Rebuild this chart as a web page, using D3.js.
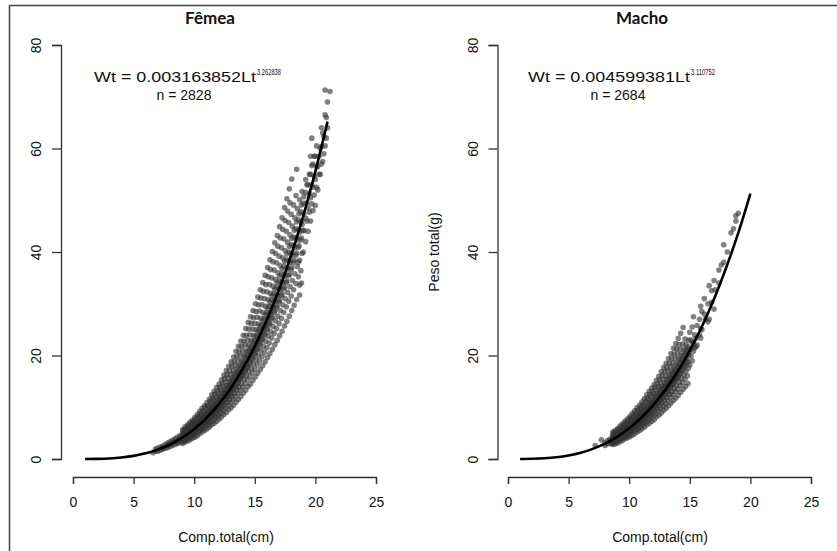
<!DOCTYPE html>
<html>
<head>
<meta charset="utf-8">
<script src="https://cdn.jsdelivr.net/npm/d3@7"></script>
<style>
  body { margin: 0; background: #fff; }
  svg { display: block; }
  text { font-family: "Liberation Sans", Arial, sans-serif; fill: #111; }
</style>
</head>
<body>
<div id="chart"></div>
<script>
// tick labels and titles
const xTicks = [0, 5, 10, 15, 20, 25];
const yTicks = [0, 20, 40, 60, 80];
const panelTitles = ["Fêmea", "Macho"];
const xLabel = "Comp.total(cm)";
const yLabel = "Peso total(g)";
const eqCoef = ["0.003163852", "0.004599381"];
const eqExp = ["3.262838", "3.110752"];
const eqN = ["2828", "2684"];

// fitted curve (length cm, weight g)
const femeaCurve = [[1,0.0],[2,0.03],[3,0.11],[4,0.29],[5,0.6],[6,1.09],[7,1.81],[8,2.8],[9,4.11],[10,5.8],[11,7.9],
  [12,10.5],[13,13.6],[14,17.4],[15,21.8],[16,26.9],[17,32.7],[18,39.4],[19,47.0],[20,55.6],[21,65.2]];
const machoCurve = [[1,0.0],[2,0.04],[3,0.14],[4,0.34],[5,0.69],[6,1.21],[7,1.96],[8,2.97],[9,4.28],[10,5.94],
  [11,7.98],[12,10.47],[13,13.43],[14,16.9],[15,20.95],[16,25.6],[17,30.9],[18,36.95],[19,43.7],[20,51.3]];

// scatter: [length, [weights at that length]]
const femeaPts = [
  [6.6,[1.2]],[6.8,[1.5,1.9]],[7.0,[1.5,2.1]],[7.2,[1.7,2.3]],[7.4,[1.9,2.5,2.1]],[7.6,[2.1,2.8]],
  [7.8,[2.2,2.6,3.1]],[8.0,[2.4,2.9,3.3]],[8.2,[2.6,3.1,3.6]],[8.4,[2.8,3.4,3.9]],[8.6,[3.0,3.6,4.2,3.3]],
  [8.8,[3.2,3.9,4.5,3.6]],
  [9.0,[3.3,3.8,4.3,4.9]],[9.1,[3.7,4.2,4.8,5.5]],[9.2,[3.6,4.1,4.7,5.3]],[9.3,[4.0,4.5,5.2,5.9]],
  [9.4,[3.8,4.4,5.0,5.7]],[9.5,[4.3,4.9,5.5,6.3]],[9.6,[4.1,4.8,5.4,6.1]],[9.7,[4.6,5.2,5.9,6.8]],
  [9.8,[4.4,5.1,5.7,6.6]],[9.9,[4.8,5.5,6.3,7.2]],[10.0,[4.6,5.4,6.1,7.0]],[10.1,[5.2,5.9,6.7,7.7]],
  [10.2,[5.0,5.8,6.5,7.4]],[10.3,[5.5,6.3,7.2,8.2]],[10.4,[5.3,6.2,7.0,8.0]],[10.5,[5.9,6.7,7.7,8.8]],
  [10.6,[5.7,6.6,7.4,8.5]],[10.7,[6.3,7.1,8.2,9.3]],[10.8,[6.0,7.0,7.9,9.0]],[10.9,[6.6,7.5,8.6,9.9]],
  [11.0,[6.3,7.3,8.3,9.5]],[11.1,[7.0,8.0,9.1,10.4]],[11.2,[6.7,7.8,8.8,10.1]],[11.3,[7.5,8.5,9.7,11.1]],
  [11.4,[7.2,8.3,9.4,10.7]],[11.5,[7.9,9.0,10.3,11.8]],[11.6,[7.6,8.8,10.0,11.4]],[11.7,[8.4,9.6,10.9,12.5]],
  [11.8,[8.0,9.3,10.5,12.0]],[11.9,[8.8,10.0,11.5,13.1]],[12.0,[8.4,9.8,11.0,12.6]],[12.1,[9.3,10.6,12.1,13.8]],
  [12.2,[8.9,10.3,11.7,13.3]],[12.3,[9.8,11.2,12.8,14.6]],[12.4,[9.4,10.9,12.3,14.1]],[12.5,[10.4,11.8,13.5,15.5]],
  [12.6,[9.9,11.5,13.0,14.9]],[12.7,[10.9,12.4,14.2,16.3]],[12.8,[10.4,12.1,13.7,15.6]],[12.9,[11.4,13.0,14.9,17.0]],
  [13.0,[10.9,12.6,14.3,16.3]],[13.1,[12.0,13.7,15.7,17.9]],[13.2,[11.5,13.3,15.1,17.2]],[13.3,[12.6,14.4,16.5,18.8]],
  [13.4,[12.1,14.0,15.9,18.1]],[13.5,[13.3,15.2,17.4,19.8]],[13.6,[12.7,14.7,16.6,19.0]],[13.7,[13.9,15.9,18.1,20.7]],
  [13.8,[13.3,15.4,17.4,19.9]],[13.9,[14.6,16.7,19.0,21.8]],[14.0,[13.9,16.2,18.3,20.9]],[14.1,[15.4,17.5,20.0,22.8]],
  [14.2,[14.6,17.0,19.2,22.0]],[14.3,[16.1,18.3,20.9,23.9]],[14.4,[15.3,17.8,20.1,23.0]],[14.5,[16.9,19.2,22.0,25.1]],
  [14.6,[16.0,18.6,21.0,24.0]],[14.7,[17.6,20.0,22.9,26.2]],[14.8,[16.7,19.4,21.9,25.1]],[14.9,[18.4,20.9,23.9,27.3]],
  [15.0,[17.4,20.3,22.9,26.2]],[15.1,[19.2,21.9,25.0,28.5]],[15.2,[18.2,21.2,23.9,27.4]],[15.3,[20.0,22.8,26.1,29.8]],
  [15.4,[19.0,22.1,25.0,28.6]],[15.5,[20.9,23.8,27.2,31.1]],[15.6,[19.8,23.1,26.0,29.8]],[15.7,[21.8,24.8,28.3,32.4]],
  [15.8,[20.6,24.0,27.1,31.0]],[15.9,[22.7,25.8,29.5,33.7]],[16.0,[21.5,25.0,28.2,32.3]],[16.1,[23.7,27.0,30.8,35.2]],
  [16.2,[22.4,26.1,29.5,33.7]],[16.3,[24.6,28.0,32.0,36.6]],[16.4,[23.4,27.2,30.7,35.0]],[16.5,[25.6,29.2,33.4,38.1]],
  [16.6,[24.3,28.3,31.9,36.5]],[16.7,[26.7,30.4,34.7,39.7]],[16.8,[25.2,29.3,33.1,37.9]],[16.9,[27.6,31.5,36.0,41.1]],
  [17.0,[26.2,30.4,34.3,39.2]],[17.1,[28.7,32.7,37.4,42.7]],[17.2,[27.2,31.6,35.7,40.8]],[17.3,[29.8,34.0,38.9,44.4]],
  [17.4,[28.3,32.9,37.2,42.5]],[17.5,[31.0,35.3,40.3,46.1]],[17.6,[29.4,34.1,38.5,44.0]],[17.7,[32.2,36.7,41.9,47.9]],
  [17.8,[30.5,35.4,40.0,45.7]],[17.9,[33.3,37.9,43.3,49.5]],[18.0,[31.5,36.6,41.4,47.3]],[18.1,[34.5,39.3,45.0]],
  [18.2,[32.7,38.0,42.9,49.1]],[18.3,[35.8,40.8,46.6]],[18.4,[33.9,39.4,44.5,50.9]],[18.5,[37.2,42.3,48.4]],
  [18.6,[35.2,40.9,46.2,38.0]],[18.7,[38.4,43.8,50.1,33.6,31.7]],[18.8,[36.4,42.3,47.8]],[18.9,[39.7,45.3,51.7]],
  [19.0,[40.0,44.2,49.4]],[19.2,[42.0,46.5,51.5,54.0]],[19.4,[44.0,48.5,53.0]],[19.6,[46.0,50.5,55.0,58.5]],
  [19.8,[48.0,52.5,57.0]],[20.0,[49.0,54.0,58.5]],[20.2,[52.0,56.5]],[20.4,[55.0,60.0]],[20.6,[57.5,63.0]],
  [20.8,[60.5,66.5,71.3]],[21.0,[64.0,69.0]],[21.2,[71.0]],
  [9.05,[3.0,3.9,4.2,4.5,5.7]],[9.25,[3.3,4.2,4.5,4.8,6.2]],[9.45,[3.5,4.5,4.9,5.2,6.6]],[9.65,[3.7,4.8,5.2,5.6,7.1]],
  [9.85,[4.0,5.2,5.5,5.9,7.5]],[10.05,[4.2,5.5,5.9,6.3,8.0]],[10.25,[4.5,5.9,6.3,6.7,8.6]],[10.45,[4.9,6.3,6.8,7.2,9.2]],
  [10.65,[5.2,6.7,7.2,7.7,9.8]],[10.85,[5.5,7.1,7.6,8.1,10.3]],[11.05,[5.8,7.5,8.0,8.6,10.9]],[11.25,[6.2,8.0,8.6,9.1,11.6]],
  [11.45,[6.6,8.5,9.1,9.7,12.4]],[11.65,[6.9,8.9,9.6,10.3,13.1]],[11.85,[7.3,9.4,10.1,10.8,13.8]],[12.05,[7.7,9.9,10.7,11.4,14.5]],
  [12.25,[8.1,10.5,11.3,12.0,15.3]],[12.45,[8.6,11.1,11.9,12.7,16.2]],[12.65,[9.0,11.7,12.6,13.4,17.1]],[12.85,[9.5,12.2,13.2,14.1,17.9]],
  [13.05,[9.9,12.8,13.8,14.8,18.8]],[13.25,[10.4,13.5,14.5,15.5,19.7]],[13.45,[11.0,14.2,15.3,16.4,20.8]],[13.65,[11.5,14.9,16.0,17.1,21.8]],
  [13.85,[12.1,15.6,16.8,18.0,22.8]],[14.05,[12.7,16.4,17.6,18.8,23.9]],[14.25,[13.3,17.2,18.5,19.8,25.2]],[14.45,[14.0,18.0,19.4,20.8,26.4]],
  [14.65,[14.5,18.8,20.2,21.6,27.5]],[14.85,[15.2,19.6,21.1,22.6,28.7]],[15.05,[15.9,20.5,22.1,23.6,30.0]],[15.25,[16.6,21.4,23.1,24.7,31.3]],
  [15.45,[17.3,22.4,24.1,25.7,32.7]],[15.65,[18.0,23.3,25.1,26.8,34.1]],[15.85,[18.8,24.3,26.1,27.9,35.5]],[16.05,[19.6,25.3,27.2,29.1,37.0]],
  [16.25,[20.4,26.3,28.3,30.3,38.5]],[16.45,[21.2,27.4,29.5,31.6,40.1]],[16.65,[22.1,28.6,30.7,32.8,41.8]],[16.85,[22.9,29.6,31.8,34.0,43.2]],
  [17.05,[23.8,30.7,33.0,35.3,44.9]],[17.25,[24.7,31.9,34.3,36.7,46.6]],[17.45,[25.7,33.2,35.7,38.2,48.6]],[17.65,[26.6,34.4,37.0,39.6,50.3]],
  [17.85,[27.6,35.7,38.4,41.1,52.2]],[18.05,[28.7,37.0,39.8,42.6,54.1]],[18.25,[29.7,38.4,41.3,44.2]],[18.45,[30.8,39.8,42.8,45.8,56.0]],
  [18.65,[41.2,44.3,47.4]],[18.85,[34.0,42.7,45.9,49.1]],[19.05,[44.1,47.4,50.7]],[19.3,[46.0,49.5,53.0]],
  [19.5,[47.7,51.3,55.0]],[19.7,[49.3,53.0,56.7,62.0]],[19.9,[51.0,54.7,58.5]],[20.1,[52.5,56.5,60.5]],
  [20.3,[55.0,58.5]],[20.5,[57.0,60.4,64.0]],[20.7,[59.0,62.3]],[20.9,[62.0,66.0]]
];

const machoPts = [
  [7.2,[2.6]],[7.7,[3.7]],[8.0,[2.6,3.2]],[8.2,[2.9,3.5]],[8.4,[3.0,3.8,3.4]],
  [8.6,[3.0,3.5,3.9,4.5]],[8.7,[3.3,3.8,4.4,5.0]],[8.8,[3.2,3.7,4.2,4.8]],[8.9,[3.6,4.1,4.6,5.3]],
  [9.0,[3.4,4.0,4.5,5.1]],[9.1,[3.8,4.4,5.0,5.7]],[9.2,[3.7,4.3,4.8,5.5]],[9.3,[4.1,4.7,5.4,6.1]],
  [9.4,[4.0,4.6,5.2,5.9]],[9.5,[4.4,5.0,5.7,6.5]],[9.6,[4.2,4.9,5.5,6.3]],[9.7,[4.7,5.3,6.1,7.0]],
  [9.8,[4.5,5.2,5.9,6.7]],[9.9,[5.0,5.7,6.5,7.4]],[10.0,[4.8,5.5,6.2,7.1]],[10.1,[5.3,6.0,6.9,7.9]],
  [10.2,[5.1,5.9,6.7,7.6]],[10.3,[5.6,6.4,7.3,8.4]],[10.4,[5.4,6.3,7.1,8.1]],[10.5,[6.0,6.8,7.8,8.9]],
  [10.6,[5.7,6.7,7.5,8.6]],[10.7,[6.3,7.2,8.3,9.4]],[10.8,[6.1,7.0,7.9,9.1]],[10.9,[6.7,7.6,8.7,10.0]],
  [11.0,[6.4,7.4,8.4,9.6]],[11.1,[7.1,8.1,9.2,10.5]],[11.2,[6.8,7.9,8.9,10.2]],[11.3,[7.5,8.6,9.8,11.2]],
  [11.4,[7.2,8.4,9.4,10.8]],[11.5,[7.9,9.0,10.3,11.8]],[11.6,[7.6,8.8,9.9,11.4]],[11.7,[8.4,9.5,10.9,12.4]],
  [11.8,[8.0,9.3,10.5,12.0]],[11.9,[8.8,10.0,11.4,13.1]],[12.0,[8.4,9.7,11.0,12.6]],[12.1,[9.3,10.6,12.1,13.8]],
  [12.2,[8.8,10.3,11.6,13.3]],[12.3,[9.8,11.1,12.7,14.5]],[12.4,[9.3,10.8,12.2,14.0]],[12.5,[10.3,11.7,13.4,15.3]],
  [12.6,[9.8,11.4,12.9,14.7]],[12.7,[10.8,12.3,14.1,16.1]],[12.8,[10.3,11.9,13.5,15.4]],[12.9,[11.3,12.9,14.7,16.8]],
  [13.0,[10.7,12.5,14.1,16.1]],[13.1,[11.9,13.5,15.4,17.6]],[13.2,[11.3,13.1,14.8,17.0]],[13.3,[12.5,14.2,16.2,18.5]],
  [13.4,[11.9,13.8,15.6,17.8]],[13.5,[13.0,14.9,17.0,19.4]],[13.6,[12.4,14.4,16.3,18.6]],[13.7,[13.6,15.5,17.8,20.3]],
  [13.8,[13.0,15.1,17.0,19.4]],[13.9,[14.2,16.2,18.5,21.2]],[14.0,[13.5,15.7,17.7,20.3]],[14.1,[14.9,17.0,19.4,22.1]],
  [14.2,[14.2,16.5,18.6,21.2]],[14.3,[15.6,17.7,20.3]],[14.4,[14.8,17.2,19.4,22.2]],[14.5,[16.3,18.5,21.2]],
  [14.6,[15.4,17.9,20.3,23.2]],[14.7,[17.0,19.3,22.1]],[14.8,[16.1,18.7,21.1]],[14.9,[17.6,20.1,23.0]],
  [15.0,[18.2,21.0,24.5]],[15.2,[19.0,22.5,25.5]],[15.4,[21.5,24.0]],[15.6,[22.0,25.8]],[15.8,[24.0,27.0]],
  [16.0,[25.0,28.5]],[16.3,[27.0]],[16.5,[26.5,30.0]],[16.8,[30.3,32.5]],[17.1,[32.7]],[17.4,[34.0,36.5]],
  [17.8,[38.0,41.4]],[18.4,[43.7]],[18.8,[47.0,46.0]],
  [8.65,[2.8,3.6,3.8,4.1,5.2]],[8.85,[2.9,3.8,4.1,4.4,5.5]],[9.05,[3.1,4.1,4.4,4.7,5.9]],[9.25,[3.4,4.4,4.7,5.0,6.4]],
  [9.45,[3.6,4.7,5.0,5.4,6.8]],[9.65,[3.9,5.0,5.4,5.7,7.3]],[9.85,[4.1,5.3,5.7,6.1,7.7]],[10.05,[4.3,5.6,6.0,6.5,8.2]],
  [10.25,[4.6,6.0,6.5,6.9,8.8]],[10.45,[4.9,6.4,6.9,7.3,9.3]],[10.65,[5.2,6.8,7.3,7.8,9.9]],[10.85,[5.5,7.1,7.7,8.2,10.4]],
  [11.05,[5.8,7.5,8.1,8.7,11.0]],[11.25,[6.2,8.0,8.6,9.2,11.7]],[11.45,[6.6,8.5,9.1,9.7,12.4]],[11.65,[6.9,8.9,9.6,10.3,13.1]],
  [11.85,[7.3,9.4,10.1,10.8,13.7]],[12.05,[7.6,9.9,10.6,11.3,14.4]],[12.25,[8.1,10.4,11.2,12.0,15.2]],[12.45,[8.5,11.0,11.8,12.6,16.0]],
  [12.65,[8.9,11.5,12.4,13.3,16.9]],[12.85,[9.4,12.1,13.0,13.9,17.7]],[13.05,[9.8,12.6,13.6,14.6,18.5]],[13.25,[10.3,13.3,14.3,15.3,19.4]],
  [13.45,[10.8,14.0,15.0,16.1,20.4]],[13.65,[11.3,14.6,15.7,16.8,21.4]],[13.85,[11.8,15.3,16.4,17.5,22.3]],[14.05,[12.3,15.9,17.1,18.3,23.3]],
  [14.25,[12.9,16.6,17.9,19.2,24.3]],[14.45,[13.5,17.4,18.7,20.0,25.4]],[14.65,[14.0,18.1,19.5,20.9]],[14.85,[14.6,18.9,20.3,21.7]],
  [15.1,[19.9,21.4,23.0]],[15.3,[20.8,22.4,27.5]],[15.5,[21.7,23.3]],[15.9,[23.4,25.2,29.5]],[16.2,[28.0,31.0]],
  [16.6,[27.0,33.5]],[17.0,[29.0,34.5]],[17.6,[37.5]],[18.1,[40.0]],[18.6,[44.5]],[19.0,[47.5]]
];

// panel geometry (pixels)
const panels = [
  {x0: 73, x1: 376, yAxisX: 61, titleX: 210, eqX: 184, xLabelX: 226, pts: femeaPts, curve: femeaCurve},
  {x0: 508, x1: 811, yAxisX: 497.5, titleX: 642, eqX: 618, xLabelX: 660, pts: machoPts, curve: machoCurve}
];

let width = 837, height = 551;
let svg = d3.select("#chart").append("svg")
  .attr("width", width)
  .attr("height", height);

// outer frame (top and left only)
svg.append("path")
  .attr("d", "M9.5,551V5.5H837")
  .attr("fill", "none")
  .attr("stroke", "#444")
  .attr("stroke-width", 1.5);

let y = d3.scaleLinear().domain([0, 80]).range([459, 45]);

panels.forEach((p, i) => {
  let x = d3.scaleLinear().domain([0, 25]).range([p.x0, p.x1]);
  let g = svg.append("g");

  // points
  let flat = [];
  p.pts.forEach(d => d[1].forEach(w => flat.push([d[0], w])));
  g.append("g").selectAll("circle")
    .data(flat)
    .join("circle")
    .attr("cx", d => x(d[0]))
    .attr("cy", d => y(d[1]))
    .attr("r", 2.8)
    .attr("fill", "#333")
    .attr("fill-opacity", 0.62);

  // fitted curve
  let line = d3.line()
    .x(d => x(d[0]))
    .y(d => y(d[1]))
    .curve(d3.curveMonotoneX);
  g.append("path")
    .datum(p.curve)
    .attr("d", line)
    .attr("fill", "none")
    .attr("stroke", "#000")
    .attr("stroke-width", 2.6);

  // x axis
  let gx = g.append("g")
    .attr("transform", "translate(0,477)")
    .call(d3.axisBottom(x).tickValues(xTicks).tickSize(7));
  gx.selectAll("path, line").attr("stroke", "#333").attr("stroke-width", 1.3);
  gx.selectAll("text")
    .attr("y", 25).attr("dy", "0.35em")
    .style("font-size", "14px")
    .style("font-family", "Liberation Sans, Arial, sans-serif")
    .attr("fill", "#111");

  // y axis
  let gy = g.append("g")
    .attr("transform", "translate(" + p.yAxisX + ",0)")
    .call(d3.axisLeft(y).tickValues(yTicks).tickSize(9));
  gy.selectAll("path, line").attr("stroke", "#333").attr("stroke-width", 1.3);
  gy.selectAll("text")
    .attr("x", 0).attr("dy", 0)
    .attr("transform", "translate(-25,0) rotate(-90)")
    .attr("text-anchor", "middle")
    .attr("dominant-baseline", "central")
    .style("font-size", "14px")
    .style("font-family", "Liberation Sans, Arial, sans-serif")
    .attr("fill", "#111");

  // title
  svg.append("text")
    .attr("x", p.titleX).attr("y", 24)
    .attr("text-anchor", "middle")
    .style("font-family", "Lato, 'Open Sans', sans-serif")
    .style("font-weight", "bold")
    .style("font-size", "17px")
    .attr("fill", "#000")
    .text(panelTitles[i]);

  // equation
  svg.append("text")
    .attr("x", p.eqX - 90).attr("y", 82)
    .attr("textLength", 162)
    .attr("lengthAdjust", "spacingAndGlyphs")
    .style("font-size", "14px")
    .text("Wt = " + eqCoef[i] + "Lt");
  svg.append("text")
    .attr("x", p.eqX + 73).attr("y", 75)
    .attr("textLength", 24)
    .attr("lengthAdjust", "spacingAndGlyphs")
    .style("font-size", "9px")
    .attr("fill", "#000")
    .text(eqExp[i]);
  svg.append("text")
    .attr("x", p.eqX).attr("y", 100)
    .attr("text-anchor", "middle")
    .style("font-size", "14px")
    .text("n = " + eqN[i]);

  // x label
  svg.append("text")
    .attr("x", p.xLabelX).attr("y", 542)
    .attr("text-anchor", "middle")
    .style("font-size", "14px")
    .text(xLabel);
});

// y label only on the right panel
svg.append("text")
  .attr("transform", "translate(439,252) rotate(-90)")
  .attr("text-anchor", "middle")
  .style("font-size", "14px")
  .text(yLabel);
</script>
</body>
</html>
